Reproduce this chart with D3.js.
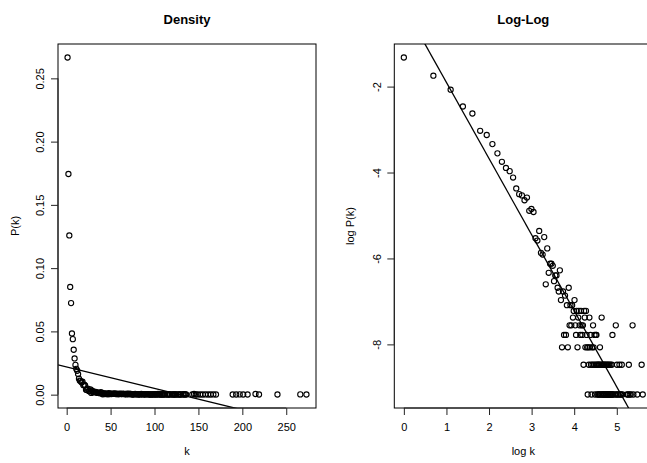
<!DOCTYPE html>
<html>
<head>
<meta charset="utf-8">
<script src="https://cdn.jsdelivr.net/npm/d3@7"></script>
<style>
  html, body { margin: 0; padding: 0; background: #fff; }
  svg { display: block; }
  text { font-family: "Liberation Sans", Arial, Helvetica, sans-serif; fill: #000; }
</style>
</head>
<body>
<svg id="chart" width="647" height="463"></svg>
<script>
// ---------------- data ----------------
const nodes = 9576;   // total number of nodes (P = count / nodes)

const degree = [
  1,2,3,4,5,6,7,8,9,10,11,12,13,14,15,16,17,18,19,20,
  21,22,23,24,25,26,27,28,29,30,31,32,33,34,35,36,37,38,39,40,
  41,42,43,44,45,46,47,48,49,50,51,52,53,54,55,56,57,58,59,60,
  61,62,63,64,65,66,67,68,69,70,71,72,73,74,75,76,77,78,79,80,
  81,82,83,84,85,86,87,88,89,90,91,92,93,94,95,96,97,98,99,100,
  101,102,103,104,105,106,107,108,109,110,
  111,112,114,115,116,117,118,120,121,122,123,124,125,127,128,129,130,132,133,134,135,136,
  143,145,147,149,152,155,158,161,164,167,170,
  189,193,197,201,206,215,219,240,266,273
];

const count = [
  2552,1670,1205,815,693,463,420,340,274,225,195,181,156,121,106,103,92,98,72,75,
  70,38,36,45,27,26,39,13,30,17,21,21,20,14,16,16,12,11,18,9,
  3,11,4,10,4,8,3,12,5,8,5,8,6,7,9,5,4,7,3,6,
  7,5,4,7,5,4,5,2,7,6,3,7,4,3,1,3,2,6,3,4,
  2,1,3,2,5,3,2,4,1,2,4,4,2,1,2,1,2,1,2,3,
  1,2,1,6,2,1,2,1,1,2,
  1,2,1,2,1,1,2,1,2,1,1,2,1,1,2,1,1,2,1,4,1,1,
  1,5,1,2,1,1,2,1,1,2,1,
  1,1,2,1,1,5,1,1,2,1
];

// fitted lines: y = intercept + slope * x
const densityFit = { intercept: 0.02183, slope: -1.692e-4 };
const logLogFit  = { intercept: -0.132,  slope: -1.7715 };

// tick values
const densityXTicks = [0, 50, 100, 150, 200, 250];
const densityYTicks = [0, 0.05, 0.10, 0.15, 0.20, 0.25];
const logXTicks = [0, 1, 2, 3, 4, 5];
const logYTicks = [-8, -6, -4, -2];

// ---------------- derived ----------------
const points = degree.map((k, i) => ({ k, p: count[i] / nodes }));
const logPoints = points.map(d => ({ lk: Math.log(d.k), lp: Math.log(d.p) }));

function rpad(ext) { const d = (ext[1] - ext[0]) * 0.04; return [ext[0] - d, ext[1] + d]; }

const svg = d3.select("#chart");
svg.append("rect").attr("width", 647).attr("height", 463).attr("fill", "#fff");

const plotTop = 44, plotBottom = 408;

function panel(opts) {
  const { x0, x1, data, xv, yv, xTicks, yTicks, xFmt, yFmt, fit, title, xlab, ylab, id, yLabX, yTitleX } = opts;
  const x = d3.scaleLinear().domain(rpad(d3.extent(data, xv))).range([x0, x1]);
  const y = d3.scaleLinear().domain(rpad(d3.extent(data, yv))).range([plotBottom, plotTop]);
  const g = svg.append("g");

  g.append("clipPath").attr("id", id).append("rect")
    .attr("x", x0).attr("y", plotTop).attr("width", x1 - x0).attr("height", plotBottom - plotTop);

  // points
  g.append("g").selectAll("circle").data(data).join("circle")
    .attr("cx", d => x(xv(d))).attr("cy", d => y(yv(d))).attr("r", 2.6)
    .attr("fill", "none").attr("stroke", "#000").attr("stroke-width", 1.1);

  // fit line
  const [dx0, dx1] = x.domain();
  g.append("line").attr("clip-path", `url(#${id})`)
    .attr("x1", x(dx0)).attr("y1", y(fit.intercept + fit.slope * dx0))
    .attr("x2", x(dx1)).attr("y2", y(fit.intercept + fit.slope * dx1))
    .attr("stroke", "#000").attr("stroke-width", 1.3);

  // box
  g.append("rect").attr("x", x0).attr("y", plotTop).attr("width", x1 - x0).attr("height", plotBottom - plotTop)
    .attr("fill", "none").attr("stroke", "#000").attr("stroke-width", 1);

  // x axis
  const xa = g.append("g").attr("transform", `translate(0,${plotBottom})`)
    .call(d3.axisBottom(x).tickValues(xTicks).tickFormat(xFmt).tickSize(7).tickPadding(8).tickSizeOuter(0));
  xa.select(".domain").attr("d", `M${x(xTicks[0])},0H${x(xTicks[xTicks.length - 1])}`).attr("stroke", "#222");
  xa.selectAll(".tick line").attr("stroke", "#222");
  xa.selectAll(".tick text").attr("font-size", 11).attr("font-family", null).attr("fill", "#111");

  // y axis
  const ya = g.append("g").attr("transform", `translate(${x0},0)`)
    .call(d3.axisLeft(y).tickValues(yTicks).tickFormat(yFmt).tickSize(7).tickSizeOuter(0));
  ya.select(".domain").attr("d", `M0,${y(yTicks[0])}V${y(yTicks[yTicks.length - 1])}`).attr("stroke", "#222");
  ya.selectAll(".tick line").attr("stroke", "#222");
  ya.selectAll(".tick text")
    .attr("font-size", 11).attr("font-family", null).attr("fill", "#111")
    .attr("x", 0).attr("y", yLabX).attr("dy", 0)
    .attr("text-anchor", "middle").attr("transform", "rotate(-90)");

  const cx = (x0 + x1) / 2, cy = (plotTop + plotBottom) / 2;
  svg.append("text").attr("x", cx).attr("y", 24).attr("text-anchor", "middle")
    .attr("font-size", 13).attr("font-weight", "bold").text(title);
  svg.append("text").attr("x", cx).attr("y", 455).attr("text-anchor", "middle")
    .attr("font-size", 11).text(xlab);
  svg.append("text").attr("transform", `translate(${yTitleX},${cy}) rotate(-90)`)
    .attr("text-anchor", "middle").attr("font-size", 11).text(ylab);
}

panel({
  id: "clipL", x0: 58, x1: 316, data: points, xv: d => d.k, yv: d => d.p,
  xTicks: densityXTicks, yTicks: densityYTicks,
  xFmt: d3.format("d"), yFmt: d3.format(".2f"),
  fit: densityFit, title: "Density", xlab: "k", ylab: "P(k)", yLabX: -14, yTitleX: 19
});

panel({
  id: "clipR", x0: 394.3, x1: 652.3, data: logPoints, xv: d => d.lk, yv: d => d.lp,
  xTicks: logXTicks, yTicks: logYTicks,
  xFmt: d3.format("d"), yFmt: d => String(d),
  fit: logLogFit, title: "Log-Log", xlab: "log k", ylab: "log P(k)", yLabX: -13.6, yTitleX: 353.5
});
</script>
</body>
</html>
